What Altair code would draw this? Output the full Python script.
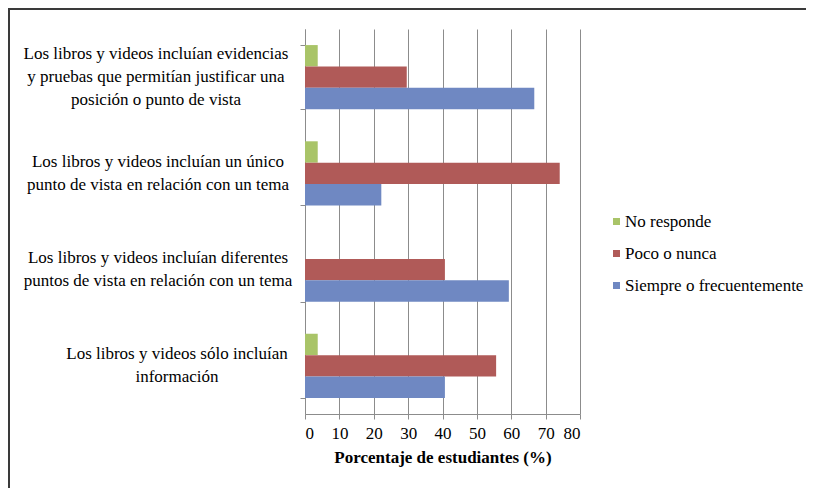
import altair as alt
import pandas as pd

categories = [
    "Los libros y videos incluían evidencias|y pruebas que permitían justificar una|posición o punto de vista",
    "Los libros y videos incluían un único|punto de vista en relación con un tema",
    "Los libros y videos incluían diferentes|puntos de vista en relación con un tema",
    "Los libros y videos sólo incluían|información",
]
series = ["No responde", "Poco o nunca", "Siempre o frecuentemente"]
no_responde = [3.7, 3.7, 0.0, 3.7]
poco_nunca = [29.6, 74.1, 40.7, 55.6]
siempre = [66.7, 22.2, 59.3, 40.7]
x_ticks = [0, 10, 20, 30, 40, 50, 60, 70, 80]
colors = ["#A9C468", "#B05A58", "#6F88C2"]

rows = []
for i, c in enumerate(categories):
    for s, vals in zip(series, [no_responde, poco_nunca, siempre]):
        rows.append({"cat": c, "serie": s, "valor": vals[i]})
df = pd.DataFrame(rows)

lab = pd.DataFrame({"cat": categories, "lines": [c.split("|") for c in categories]})

FONT = "Times New Roman, Liberation Serif, serif"

y_enc = alt.Y("cat:N", sort=categories, title=None,
              scale=alt.Scale(paddingInner=0.333, paddingOuter=0.167),
              axis=alt.Axis(labels=False, tickBand="extent", tickSize=5,
                            tickColor="#8C8C8C", domainColor="#8C8C8C", grid=False))

bars = alt.Chart(df).mark_bar().encode(
    x=alt.X("valor:Q", title="Porcentaje de estudiantes (%)",
            scale=alt.Scale(domain=[0, 80], nice=False),
            axis=alt.Axis(values=x_ticks, grid=True, gridColor="#8C8C8C",
                          domainColor="#8C8C8C", tickColor="#8C8C8C",
                          tickSize=5, labelFont=FONT, labelFontSize=17,
                          labelColor="#000000", labelPadding=6,
                          titleFont=FONT, titleFontSize=17, titleFontWeight="bold",
                          titleColor="#000000", titlePadding=8)),
    y=y_enc,
    yOffset=alt.YOffset("serie:N", sort=series, scale=alt.Scale(paddingInner=0, paddingOuter=0)),
    color=alt.Color("serie:N", sort=series,
                    scale=alt.Scale(domain=series, range=colors),
                    legend=alt.Legend(title=None, orient="none", legendX=303, legendY=184,
                                      symbolType="square", symbolSize=49,
                                      symbolStrokeWidth=0, labelFont=FONT,
                                      labelFontSize=17, labelColor="#000000",
                                      rowPadding=14, padding=0, labelOffset=0,
                                      labelLimit=300)),
)

def label_layer(idx, dy, xpos):
    return alt.Chart(lab.iloc[idx]).mark_text(
        align="center", baseline="middle", font=FONT, fontSize=17,
        lineHeight=23, dy=dy, color="#000000"
    ).encode(y=alt.Y("cat:N", sort=categories), x=alt.value(xpos), text="lines")

lab3 = label_layer([0], -23, -149)
lab2 = label_layer([1, 2], -11.5, -147)
lab_last = label_layer([3], -11.5, -128)

frame = alt.Chart(pd.DataFrame({"a": [0]})).mark_rule(color="#3A3A3A", strokeWidth=2)
left_line = frame.encode(x=alt.value(-296), y=alt.value(-21), y2=alt.value(460))
top_line = frame.encode(x=alt.value(-297), x2=alt.value(510), y=alt.value(-20))

chart = alt.layer(bars, lab3, lab2, lab_last, left_line, top_line).properties(
    width=275, height=385,
    autosize=alt.AutoSizeParams(type="none"),
    padding={"left": 297, "top": 21, "right": 226, "bottom": 74},
    background="white",
).configure_view(stroke=None)

chart.save("out.html", embed_options={"renderer": "svg", "actions": False})
